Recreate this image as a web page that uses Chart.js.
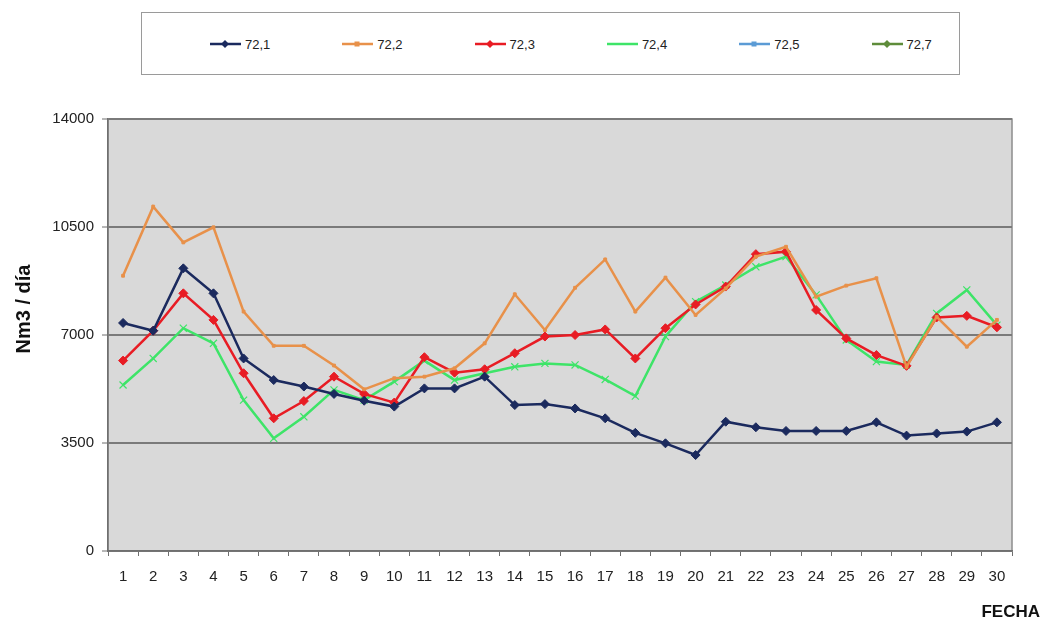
<!DOCTYPE html>
<html>
<head>
<meta charset="utf-8">
<script src="https://cdn.jsdelivr.net/npm/chart.js@4/dist/chart.umd.min.js"></script>
<style>
  html, body { margin: 0; padding: 0; background: #ffffff; }
  #wrap { position: relative; width: 1045px; height: 626px; }
  #chart { position: absolute; left: 0; top: 0; }
  #legend {
    position: absolute; left: 141px; top: 12px; width: 817px; height: 61px;
    border: 1.5px solid #9a9a9a; background: #ffffff;
    font-family: "Liberation Sans", Arial, sans-serif;
    font-size: 13px; color: #222;
  }
  .item { position: absolute; top: 22px; height: 18px; display: flex; align-items: center; }
  .item span { margin-left: 4px; }
</style>
</head>
<body>
<div id="wrap">
  <canvas id="chart" width="1045" height="626"></canvas>
  <div id="legend"></div>
</div>
<script>
// Days of the month
const fechas = ['1','2','3','4','5','6','7','8','9','10','11','12','13','14','15','16','17','18','19','20','21','22','23','24','25','26','27','28','29','30'];

// Daily consumption per meter (Nm3 / día)
const s721 = [7390, 7140, 9160, 8350, 6240, 5540, 5330, 5090, 4870, 4680, 5270, 5270, 5650, 4730, 4760, 4620, 4300, 3830, 3490, 3110, 4190, 4010, 3890, 3890, 3890, 4170, 3740, 3810, 3870, 4170];
const s722 = [8920, 11160, 10000, 10490, 7760, 6650, 6650, 6010, 5240, 5600, 5650, 5920, 6730, 8320, 7160, 8530, 9450, 7760, 8860, 7650, 8510, 9540, 9860, 8240, 8600, 8840, 5970, 7590, 6620, 7490];
const s723 = [6170, 7140, 8350, 7490, 5760, 4300, 4860, 5650, 5090, 4810, 6280, 5780, 5890, 6410, 6950, 7000, 7180, 6240, 7220, 7990, 8570, 9620, 9700, 7810, 6890, 6350, 6000, 7570, 7620, 7250];
const s724 = [5380, 6240, 7220, 6730, 4890, 3650, 4350, 5220, 4890, 5490, 6170, 5540, 5760, 5970, 6080, 6030, 5560, 5020, 6950, 8080, 8620, 9210, 9540, 8300, 6840, 6140, 6030, 7700, 8460, 7320];
const s725 = [];
const s727 = [];

// Y axis tick values
const yTicks = [0, 3500, 7000, 10500, 14000];

const series = [
  { label: '72,1', data: s721, color: '#1b2a5e', style: 'rectRot', radius: 4.5 },
  { label: '72,2', data: s722, color: '#e8914a', style: 'rect', radius: 2 },
  { label: '72,3', data: s723, color: '#e81c24', style: 'rectRot', radius: 4.5 },
  { label: '72,4', data: s724, color: '#3ee468', style: 'crossRot', radius: 5 },
  { label: '72,5', data: s725, color: '#5b9bd5', style: 'rect', radius: 3.5 },
  { label: '72,7', data: s727, color: '#5e8c3a', style: 'rectRot', radius: 4 }
];

const AXIS_FONT = '"Liberation Sans", Arial, sans-serif';

// Grey plot area and axis titles
const plotFrame = {
  id: 'plotFrame',
  beforeDraw(chart) {
    const { ctx, chartArea: a } = chart;
    ctx.save();
    ctx.fillStyle = '#d9d9d9';
    ctx.fillRect(a.left, a.top, a.right - a.left, a.bottom - a.top);
    ctx.strokeStyle = '#8c8c8c';
    ctx.lineWidth = 1.5;
    ctx.strokeRect(a.left, a.top, a.right - a.left, a.bottom - a.top);
    ctx.restore();
  },
  afterDraw(chart) {
    const { ctx } = chart;
    ctx.save();
    ctx.fillStyle = '#111';
    ctx.font = 'bold 20px "Liberation Sans", Arial, sans-serif';
    ctx.textAlign = 'center';
    ctx.textBaseline = 'middle';
    ctx.translate(24, 309);
    ctx.rotate(-Math.PI / 2);
    ctx.fillText('Nm3 / día', 0, 0);
    ctx.restore();

    ctx.save();
    ctx.fillStyle = '#111';
    ctx.font = 'bold 17px "Liberation Sans", Arial, sans-serif';
    ctx.textAlign = 'right';
    ctx.textBaseline = 'middle';
    ctx.fillText('FECHA', 1040, 612);
    ctx.restore();
  }
};

const chart = new Chart(document.getElementById('chart'), {
  type: 'line',
  data: {
    labels: fechas,
    datasets: series.map(s => ({
      label: s.label,
      data: s.data,
      borderColor: s.color,
      backgroundColor: s.color,
      borderWidth: 2.5,
      pointStyle: s.style,
      pointRadius: s.radius,
      pointBorderWidth: s.style === 'crossRot' ? 1.2 : 1,
      pointBorderColor: s.color,
      pointBackgroundColor: s.color,
      tension: 0,
      fill: false
    }))
  },
  options: {
    responsive: false,
    animation: false,
    devicePixelRatio: 1,
    layout: { padding: { left: 0, top: 119, right: 33, bottom: 0 } },
    plugins: { legend: { display: false }, tooltip: { enabled: false } },
    scales: {
      x: {
        type: 'category',
        offset: true,
        afterFit: s => { s.height = 75; },
        grid: {
          offset: true,
          drawOnChartArea: false,
          drawTicks: true,
          tickLength: 5,
          color: '#6f6f6f',
          lineWidth: 1
        },
        border: { color: '#6f6f6f', width: 1.5 },
        ticks: {
          color: '#222',
          font: { family: AXIS_FONT, size: 15 },
          padding: 12,
          maxRotation: 0,
          autoSkip: false
        }
      },
      y: {
        min: 0,
        max: 14000,
        afterFit: s => { s.width = 108; },
        afterBuildTicks: s => { s.ticks = yTicks.map(v => ({ value: v })); },
        grid: {
          color: '#7a7a7a',
          lineWidth: 2,
          drawTicks: true,
          tickLength: 6,
          tickColor: '#6f6f6f',
          tickWidth: 1
        },
        border: { color: '#6f6f6f', width: 1.5 },
        ticks: {
          color: '#222',
          font: { family: AXIS_FONT, size: 15 },
          padding: 8,
          callback: v => String(v)
        }
      }
    }
  },
  plugins: [plotFrame]
});

// Legend built from the same series definitions
const legend = document.getElementById('legend');
function markerSvg(s) {
  const c = s.color;
  let m = '';
  if (s.style === 'rectRot') m = `<polygon points="15,5 19,9 15,13 11,9" fill="${c}"/>`;
  else if (s.style === 'rect') m = `<rect x="12.5" y="6.5" width="5" height="5" fill="${c}"/>`;
  return `<svg width="31" height="18"><line x1="0" y1="9" x2="31" y2="9" stroke="${c}" stroke-width="2.5"/>${m}</svg>`;
}
series.forEach((s, i) => {
  const d = document.createElement('div');
  d.className = 'item';
  d.style.left = (68 + i * 132.3) + 'px';
  d.innerHTML = markerSvg(s) + `<span>${s.label}</span>`;
  legend.appendChild(d);
});
</script>
</body>
</html>
